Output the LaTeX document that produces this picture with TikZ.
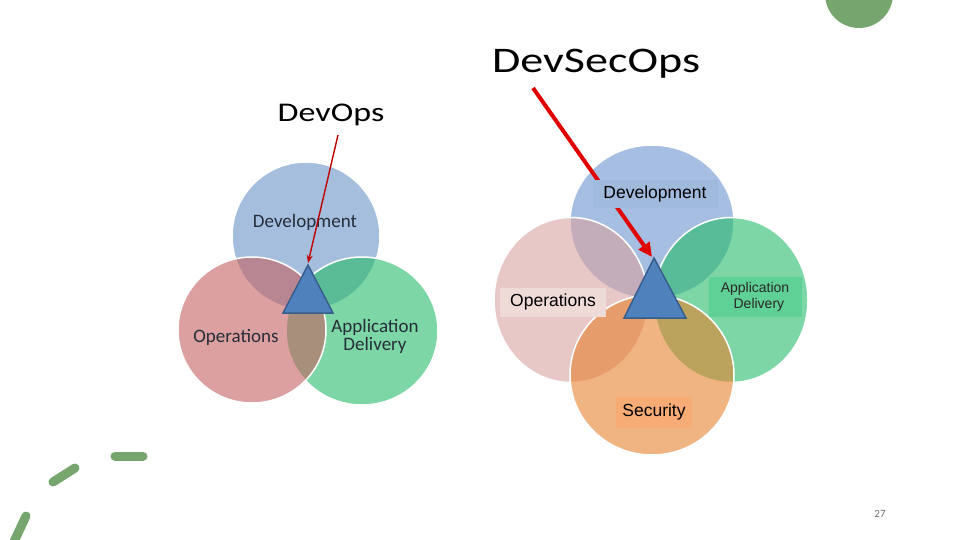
\documentclass[tikz,border=0pt]{standalone}
\usepackage{fontspec}
\setmainfont{Liberation Sans}
\newfontfamily\calib{Carlito}
\usetikzlibrary{arrows.meta,shapes.geometric}
\definecolor{lblue}{RGB}{108,147,200}
\definecolor{lpink}{RGB}{197,97,97}
\definecolor{lgreen}{RGB}{38,188,105}
\definecolor{rblue}{RGB}{105,147,205}
\definecolor{rpink}{RGB}{217,163,163}
\definecolor{rgreen}{RGB}{38,188,105}
\definecolor{rorange}{RGB}{230,130,47}
\definecolor{decogreen}{RGB}{118,166,110}
\definecolor{triblue}{RGB}{79,129,189}
\definecolor{triedge}{RGB}{56,93,138}
\definecolor{arrred}{RGB}{225,0,0}
\definecolor{lbltext}{RGB}{38,45,58}
\definecolor{boxblue}{RGB}{160,186,222}
\definecolor{boxpink}{RGB}{238,218,214}
\definecolor{boxgreen}{RGB}{95,208,150}
\definecolor{boxorange}{RGB}{247,172,118}
\tikzset{
  venn/.style={ellipse, draw=white, line width=1.5pt, fill opacity=0.6, inner sep=0pt},
  tri/.style={fill=triblue, draw=triedge, line width=1.5pt, line join=miter},
  ltxt/.style={font=\calib\fontsize{19}{21}\selectfont, text=lbltext, inner sep=0pt, anchor=base, align=center},
  rbox/.style={inner sep=0pt, font=\fontsize{17.5}{20}\selectfont, text=black, align=center},
  deco/.style={draw=decogreen, line width=9pt, line cap=round},
}
\begin{document}
\begin{tikzpicture}[x=1pt,y=-1pt]
\useasboundingbox (0,0) rectangle (960,540);
\fill[white] (0,0) rectangle (960,540);

% decorations
\fill[decogreen] (859,-6) circle[radius=34pt];
\coordinate (d1a) at (115,456); \coordinate (d1b) at (143,456);
\coordinate (d2a) at (53,482);  \coordinate (d2b) at (75,468);
\coordinate (d3a) at (12,546);  \coordinate (d3b) at (26,516);
\draw[deco] (d1a) -- (d1b);
\draw[deco] (d2a) -- (d2b);
\draw[deco] (d3a) -- (d3b);

% ---------- left: DevOps ----------
\node[venn, fill=lblue, minimum width=148pt, minimum height=148pt] (ldev) at (306,236) {};
\node[venn, fill=lgreen, minimum width=152pt, minimum height=148pt] (lapp) at (362,331) {};
\node[venn, fill=lpink, minimum width=148pt, minimum height=146pt] (lops) at (252,330) {};
\node[ltxt] (ldevt) at (305,227) {Development};
\node[ltxt] (lopst) at (236,342) {Operations};
\node[ltxt] (lappt) at (375,350) {Application\\[-3pt]Delivery};
\coordinate (lta) at (308,265);
\coordinate (ltb) at (283,313);
\coordinate (ltc) at (333,313);
\draw[tri] (lta) -- (ltb) -- (ltc) -- cycle;
\node[font=\calib\fontsize{27}{30}\selectfont, inner sep=0pt, anchor=base] (ltitle) at (331,122) {\scalebox{1.26}[1]{DevOps}};
\coordinate (larrs) at (338,135);
\coordinate (larre) at (308,263);
\draw[arrred!85!black, line width=1.4pt, -{Stealth[length=8pt,width=6pt]}] (larrs) -- (larre);

% ---------- right: DevSecOps ----------
\node[venn, fill=rblue, minimum width=164pt, minimum height=154pt] (rdev) at (652,222) {};
\node[venn, fill=rpink, minimum width=154pt, minimum height=165pt] (rops) at (571,300) {};
\node[venn, fill=rgreen, minimum width=154pt, minimum height=165pt] (rapp) at (731,300) {};
\node[venn, fill=rorange, minimum width=164pt, minimum height=160pt] (rsec) at (652,375) {};
\coordinate (rta) at (654,258);
\coordinate (rtb) at (624,318);
\coordinate (rtc) at (686,318);
\draw[tri] (rta) -- (rtb) -- (rtc) -- cycle;
\node[font=\calib\fontsize{36}{40}\selectfont, inner sep=0pt, anchor=base] (rtitle) at (596,73) {\scalebox{1.28}[1]{DevSecOps}};
\coordinate (rarrs) at (533,88);
\coordinate (rarre) at (652,257);
\draw[arrred, line width=4pt, -{Triangle[length=14pt,width=13pt]}] (rarrs) -- (rarre);
\node[rbox, fill=boxblue, minimum width=125pt, minimum height=28pt] (rdevt) at (655,194) {Development};
\node[rbox, fill=boxpink, minimum width=106pt, minimum height=29pt] (ropst) at (553,302) {Operations};
\node[rbox, fill=boxgreen, minimum width=93pt, minimum height=40pt, font=\fontsize{14}{16}\selectfont, text={rgb,255:red,40;green,40;blue,40}] (rappt) at (755,297) {Application\\\ \ Delivery};
\node[rbox, fill=boxorange, minimum width=76pt, minimum height=31pt] (rsect) at (654,412) {Security};

% page number
\node[font=\calib\fontsize{11}{12}\selectfont, text={rgb,255:red,110;green,110;blue,110}, inner sep=0pt] (pnum) at (880,514) {27};
\end{tikzpicture}
\end{document}
